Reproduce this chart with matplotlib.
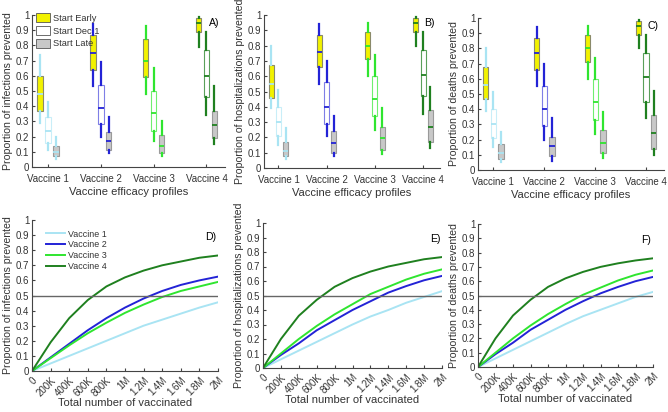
import matplotlib
matplotlib.use("Agg")
import matplotlib.pyplot as plt
from matplotlib.patches import Patch
from matplotlib.lines import Line2D

plt.rcParams['font.family'] = ['Liberation Sans', 'DejaVu Sans']

vaccines = ["Vaccine 1", "Vaccine 2", "Vaccine 3", "Vaccine 4"]
starts = ["Start Early", "Start Dec 1", "Start Late"]

# box stats per panel: [vaccine][start] = (whislo, q1, med, q3, whishi)
infections = [
    [(0.29, 0.37, 0.48, 0.60, 0.74), (0.11, 0.16, 0.235, 0.33, 0.43), (0.05, 0.07, 0.10, 0.14, 0.20)],
    [(0.53, 0.64, 0.75, 0.87, 0.94), (0.20, 0.28, 0.39, 0.54, 0.69), (0.09, 0.11, 0.17, 0.23, 0.33)],
    [(0.48, 0.59, 0.70, 0.84, 0.93), (0.17, 0.24, 0.355, 0.50, 0.65), (0.07, 0.09, 0.14, 0.21, 0.30)],
    [(0.79, 0.89, 0.95, 0.98, 0.99), (0.34, 0.46, 0.60, 0.77, 0.89), (0.15, 0.19, 0.275, 0.37, 0.53)],
]
hospitalizations = [
    [(0.39, 0.46, 0.55, 0.67, 0.80), (0.15, 0.21, 0.30, 0.40, 0.51), (0.06, 0.08, 0.11, 0.17, 0.26)],
    [(0.55, 0.66, 0.76, 0.87, 0.94), (0.21, 0.29, 0.40, 0.56, 0.70), (0.08, 0.10, 0.165, 0.24, 0.34)],
    [(0.60, 0.71, 0.80, 0.89, 0.95), (0.25, 0.34, 0.45, 0.60, 0.74), (0.09, 0.12, 0.195, 0.27, 0.39)],
    [(0.80, 0.89, 0.95, 0.98, 0.99), (0.35, 0.47, 0.61, 0.77, 0.89), (0.13, 0.17, 0.265, 0.38, 0.53)],
]
deaths = [
    [(0.39, 0.47, 0.56, 0.68, 0.80), (0.15, 0.21, 0.30, 0.40, 0.51), (0.05, 0.07, 0.11, 0.17, 0.25)],
    [(0.55, 0.66, 0.77, 0.87, 0.94), (0.20, 0.29, 0.40, 0.55, 0.70), (0.06, 0.09, 0.155, 0.22, 0.34)],
    [(0.60, 0.71, 0.80, 0.89, 0.95), (0.24, 0.33, 0.445, 0.60, 0.74), (0.08, 0.11, 0.18, 0.26, 0.38)],
    [(0.80, 0.89, 0.95, 0.98, 0.99), (0.34, 0.45, 0.61, 0.77, 0.89), (0.10, 0.14, 0.245, 0.36, 0.52)],
]

# curves: number vaccinated vs proportion prevented
n_vacc = [0, 200e3, 400e3, 600e3, 800e3, 1.0e6, 1.2e6, 1.4e6, 1.6e6, 1.8e6, 2.0e6]
n_labels = ["0", "200K", "400K", "600K", "800K", "1M", "1.2M", "1.4M", "1.6M", "1.8M", "2M"]
inf_curves = [
    [0, 0.05, 0.10, 0.15, 0.20, 0.25, 0.30, 0.34, 0.38, 0.42, 0.455],
    [0, 0.09, 0.18, 0.27, 0.35, 0.42, 0.48, 0.53, 0.57, 0.60, 0.625],
    [0, 0.085, 0.17, 0.25, 0.32, 0.385, 0.44, 0.49, 0.53, 0.56, 0.59],
    [0, 0.19, 0.35, 0.47, 0.56, 0.62, 0.665, 0.70, 0.725, 0.75, 0.765],
]
hosp_curves = [
    [0, 0.06, 0.12, 0.18, 0.24, 0.30, 0.355, 0.40, 0.45, 0.49, 0.53],
    [0, 0.09, 0.17, 0.26, 0.33, 0.40, 0.46, 0.52, 0.565, 0.605, 0.635],
    [0, 0.10, 0.20, 0.29, 0.37, 0.44, 0.51, 0.56, 0.61, 0.65, 0.68],
    [0, 0.20, 0.36, 0.47, 0.56, 0.62, 0.665, 0.70, 0.725, 0.75, 0.765],
]
death_curves = [
    [0, 0.06, 0.12, 0.18, 0.24, 0.30, 0.355, 0.40, 0.445, 0.49, 0.525],
    [0, 0.09, 0.17, 0.26, 0.33, 0.40, 0.46, 0.515, 0.56, 0.60, 0.63],
    [0, 0.10, 0.20, 0.29, 0.37, 0.44, 0.505, 0.555, 0.605, 0.645, 0.675],
    [0, 0.20, 0.36, 0.47, 0.56, 0.62, 0.665, 0.70, 0.725, 0.745, 0.76],
]

vacc_colors = ['#a9e4f3', '#2323d6', '#2fe52f', '#1f801f']
dec_edge = ['#c9eef8', '#7f7fe6', '#6fee6f', '#5aa05a']
fill_colors = ['#f2f200', 'white', '#c8c8c8']
box_edges = ['#8a8a6a', None, '#9a9a9a']

fs_tick = 7
fs_lab = 7.6
text_col = '#333333'


def style_axis(ax):
    ax.spines['top'].set_visible(False)
    ax.spines['right'].set_visible(False)
    for sp in ['left', 'bottom']:
        ax.spines[sp].set_color('#444444')
    ax.tick_params(direction='in', length=2.5, labelsize=fs_tick, pad=2,
                   colors='#444444', labelcolor=text_col)
    ax.set_ylim(0, 1)
    ax.set_yticks([i / 10 for i in range(11)])
    ax.set_yticklabels(["0"] + ["%.1f" % (i / 10) for i in range(1, 10)] + ["1"])


def plot_boxes(ax, data, ylabel, letter, legend=False):
    offsets = [-0.15, 0.0, 0.15]
    for v in range(len(vaccines)):
        for s in range(len(starts)):
            lo, q1, med, q3, hi = data[v][s]
            stats = [dict(whislo=lo, q1=q1, med=med, q3=q3, whishi=hi, fliers=[])]
            edge = dec_edge[v] if s == 1 else box_edges[s]
            ax.bxp(stats, positions=[v + 1 + offsets[s]], widths=0.105,
                   patch_artist=True, showcaps=False, showfliers=False,
                   boxprops=dict(facecolor=fill_colors[s], edgecolor=edge, linewidth=0.8),
                   whiskerprops=dict(color=vacc_colors[v], linewidth=1.6),
                   medianprops=dict(color=vacc_colors[v], linewidth=1.3))
    style_axis(ax)
    ax.set_xlim(0.7, 4.35)
    ax.set_xticks(range(1, 5))
    ax.set_xticklabels(vaccines)
    ax.tick_params(axis='x', pad=5)
    ax.set_xlabel("Vaccine efficacy profiles", fontsize=fs_lab + 0.4, labelpad=2, color=text_col)
    ax.set_ylabel(ylabel, fontsize=fs_lab, labelpad=2, color=text_col)
    ax.text(0.97, 0.93, letter, transform=ax.transAxes, fontsize=fs_lab, ha='right')
    if legend:
        handles = [Patch(facecolor=fill_colors[i], edgecolor='#555555', linewidth=0.6, label=starts[i])
                   for i in range(3)]
        ax.legend(handles=handles, loc='upper left', bbox_to_anchor=(-0.01, 1.05), frameon=False,
                  fontsize=fs_tick - 0.3, handlelength=1.5, handleheight=1.1, labelspacing=0.35,
                  handletextpad=0.4, borderaxespad=0.2, labelcolor=text_col)


def plot_curves(ax, curves, ylabel, letter, legend=False):
    for v in range(len(vaccines)):
        ax.plot(n_vacc, curves[v], color=vacc_colors[v], linewidth=1.4, label=vaccines[v])
    ax.axhline(0.5, color='#666666', linewidth=1.0)
    style_axis(ax)
    ax.set_xlim(0, 2e6)
    ax.set_xticks(n_vacc)
    ax.set_xticklabels(n_labels, rotation=45, ha='right', rotation_mode='anchor')
    ax.tick_params(axis='x', pad=3)
    ax.set_xlabel("Total number of vaccinated", fontsize=fs_lab + 0.4, labelpad=0, color=text_col)
    ax.set_ylabel(ylabel, fontsize=fs_lab, labelpad=2, color=text_col)
    ax.text(0.99, 0.87, letter, transform=ax.transAxes, fontsize=fs_lab, ha='right')
    if legend:
        handles = [Line2D([0], [0], color=vacc_colors[v], linewidth=1.4, label=vaccines[v])
                   for v in range(len(vaccines))]
        ax.legend(handles=handles, loc='upper left', bbox_to_anchor=(0.03, 0.99), frameon=False,
                  fontsize=fs_tick - 0.6, handlelength=2.2, labelspacing=0.2, handletextpad=0.3,
                  labelcolor=text_col)


fig = plt.figure(figsize=(6.68, 4.12), dpi=100)
W, H = 668.0, 412.0


def add_axes(left, right, top, bottom):
    return fig.add_axes([left / W, 1 - bottom / H, (right - left) / W, (bottom - top) / H])


axA = add_axes(32, 225, 15, 167)
axB = add_axes(264, 440, 15, 168)
axC = add_axes(478, 664, 18, 170)
axD = add_axes(32, 218, 220, 371)
axE = add_axes(263, 442, 223, 368)
axF = add_axes(478, 653, 224, 367)

plot_boxes(axA, infections, "Proportion of infections prevented", "A)", legend=True)
plot_boxes(axB, hospitalizations, "Proportion of hospitalizations prevented", "B)")
plot_boxes(axC, deaths, "Proportion of deaths prevented", "C)")
plot_curves(axD, inf_curves, "Proportion of infections prevented", "D)", legend=True)
plot_curves(axE, hosp_curves, "Proportion of hospitalizations prevented", "E)")
plot_curves(axF, death_curves, "Proportion of deaths prevented", "F)")

fig.savefig("out.png", dpi=100)
